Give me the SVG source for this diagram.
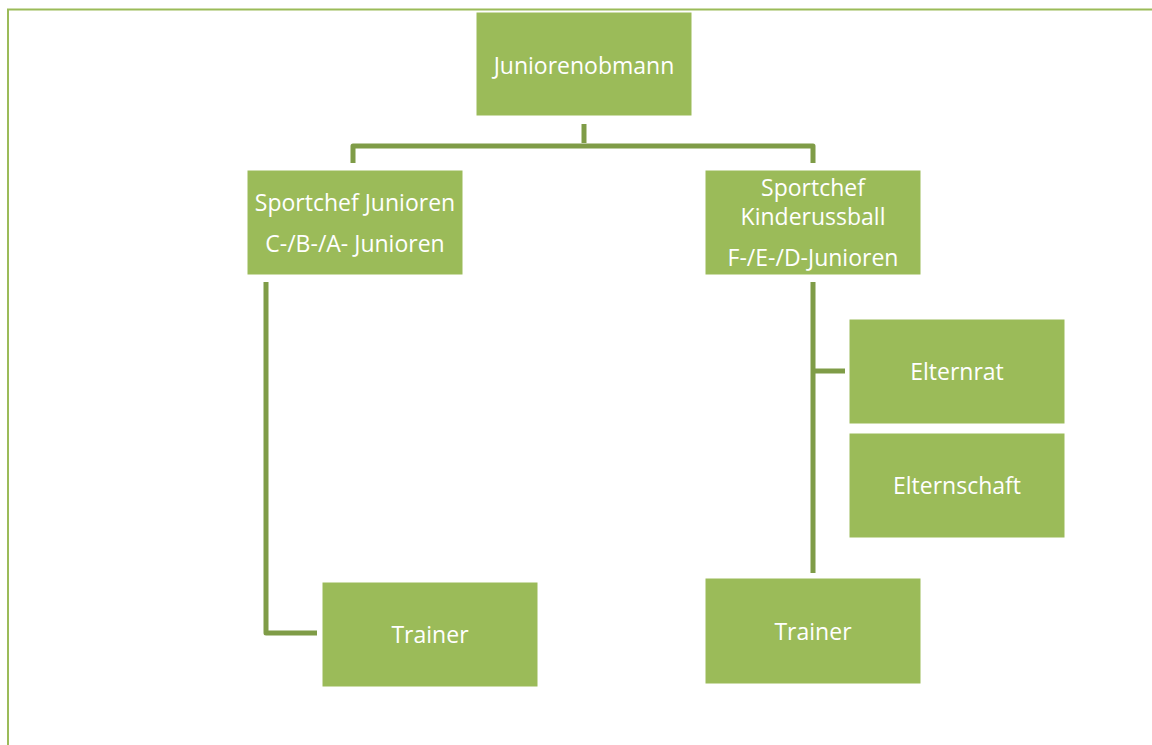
<svg xmlns="http://www.w3.org/2000/svg" width="1152" height="745" viewBox="0 0 1152 745">
<style>
.box{fill:#9bbb59;stroke:#ffffff;stroke-width:1}
.t{font-family:"Open Sans","Liberation Sans",sans-serif;font-size:23px;fill:#ffffff;text-anchor:middle;dominant-baseline:central}
.c{fill:none;stroke:#7f9c47;stroke-width:5;stroke-linejoin:round}
.frame{fill:none;stroke:#9bbb59;stroke-width:2}
</style>
<rect width="1152" height="745" fill="#ffffff"/>
<path class="frame" d="M8 745 V9.5 H1152"/>
<g id="connectors">
<path class="c" d="M584 124 V143"/>
<path class="c" d="M353 163 V146 H813 V163"/>
<path class="c" d="M266 282 V633 H317"/>
<path class="c" d="M813 282 V573"/>
<path class="c" d="M813 371 H845"/>
</g>
<g id="juniorenobmann"><rect class="box" x="476" y="12" width="216" height="104"/><text class="t" x="584" y="65">Juniorenobmann</text></g>
<g id="sportchef-junioren"><rect class="box" x="247" y="170" width="216" height="105"/><text class="t" x="355" y="202">Sportchef Junioren</text><text class="t" x="355" y="243">C-/B-/A- Junioren</text></g>
<g id="sportchef-kinder"><rect class="box" x="705" y="170" width="216" height="105"/><text class="t" x="813" y="187">Sportchef</text><text class="t" x="813" y="216">Kinderussball</text><text class="t" x="813" y="257">F-/E-/D-Junioren</text></g>
<g id="elternrat"><rect class="box" x="849" y="319" width="216" height="105"/><text class="t" x="957" y="371">Elternrat</text></g>
<g id="elternschaft"><rect class="box" x="849" y="433" width="216" height="105"/><text class="t" x="957" y="485">Elternschaft</text></g>
<g id="trainer-left"><rect class="box" x="322" y="582" width="216" height="105"/><text class="t" x="430" y="634">Trainer</text></g>
<g id="trainer-right"><rect class="box" x="705" y="578" width="216" height="106"/><text class="t" x="813" y="631">Trainer</text></g>
</svg>
